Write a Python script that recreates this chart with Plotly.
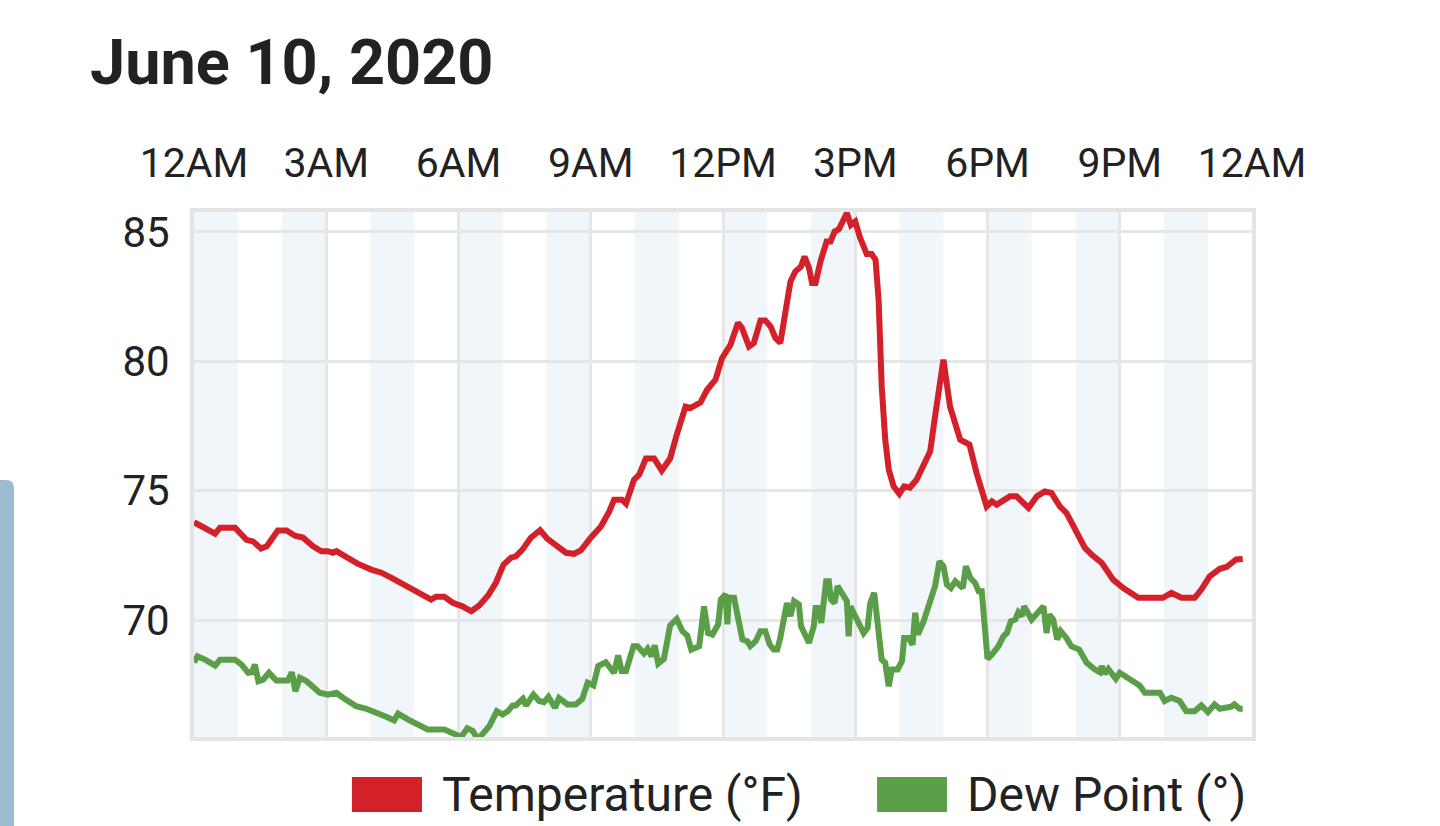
import plotly.graph_objects as go

# Hourly readings for June 10, 2020 (hour of day, value)
temp_hours = [0.0, 0.25, 0.48, 0.59, 0.93, 1.19, 1.34, 1.52, 1.65, 1.9, 2.1, 2.29, 2.47, 2.7, 2.89,
              3.04, 3.15, 3.23, 3.42, 3.71, 4.02, 4.25, 4.47, 4.93, 5.19, 5.38, 5.49, 5.68, 5.87,
              6.09, 6.29, 6.47, 6.67, 6.85, 7.02, 7.19, 7.3, 7.45, 7.64, 7.85, 8.01, 8.17, 8.44,
              8.62, 8.78, 9.0, 9.23, 9.42, 9.53, 9.71, 9.8, 9.98, 10.1, 10.25, 10.44, 10.61, 10.8,
              10.95, 11.15, 11.27, 11.49, 11.64, 11.83, 11.98, 12.17, 12.34, 12.43, 12.59, 12.7,
              12.85, 12.96, 13.08, 13.19, 13.3, 13.42, 13.53, 13.64, 13.77, 13.85, 13.95, 14.02,
              14.1, 14.21, 14.35, 14.44, 14.53, 14.63, 14.7, 14.81, 14.9, 15.0, 15.11, 15.26,
              15.37, 15.46, 15.53, 15.6, 15.68, 15.76, 15.87, 16.0, 16.11, 16.24, 16.39, 16.58,
              16.7, 16.81, 17.0, 17.15, 17.38, 17.59, 17.75, 17.98, 18.1, 18.21, 18.51, 18.66,
              18.93, 19.12, 19.3, 19.45, 19.64, 19.79, 19.98, 20.21, 20.36, 20.59, 20.85, 21.08,
              21.42, 21.98, 22.17, 22.4, 22.7, 22.85, 23.04, 23.27, 23.42, 23.64, 23.79]
temp_values = [73.78, 73.57, 73.34, 73.57, 73.57, 73.1, 73.04, 72.76, 72.85, 73.46, 73.46, 73.26,
               73.19, 72.85, 72.66, 72.66, 72.6, 72.66, 72.46, 72.18, 71.95, 71.83, 71.64, 71.22,
               70.92, 70.79, 70.9, 70.9, 70.67, 70.53, 70.34, 70.56, 70.95, 71.45, 72.14, 72.41,
               72.46, 72.72, 73.18, 73.47, 73.15, 72.92, 72.6, 72.56, 72.7, 73.18, 73.62, 74.2,
               74.65, 74.65, 74.5, 75.42, 75.62, 76.24, 76.24, 75.78, 76.24, 77.16, 78.25, 78.2,
               78.41, 78.9, 79.29, 80.13, 80.64, 81.49, 81.29, 80.57, 80.71, 81.58, 81.58, 81.34,
               80.9, 80.71, 81.99, 83.08, 83.47, 83.66, 84.05, 83.61, 83.03, 83.03, 83.85, 84.63,
               84.63, 85.01, 85.11, 85.35, 85.73, 85.27, 85.4, 84.77, 84.15, 84.15, 83.92, 82.37,
               79.03, 76.97, 75.81, 75.17, 74.88, 75.17, 75.12, 75.42, 76.08, 76.52, 77.87, 80.06,
               78.25, 76.97, 76.78, 75.69, 74.39, 74.59, 74.46, 74.78, 74.78, 74.33, 74.78, 74.97,
               74.91, 74.39, 74.14, 73.5, 72.79, 72.53, 72.21, 71.56, 71.24, 70.86, 70.86, 71.05,
               70.86, 70.86, 71.18, 71.69, 71.98, 72.05, 72.34, 72.36]

dew_hours = [0.0, 0.08, 0.25, 0.48, 0.59, 0.93, 1.08, 1.23, 1.31, 1.38, 1.46, 1.57, 1.7, 1.87,
             2.13, 2.22, 2.3, 2.4, 2.55, 2.7, 2.85, 3.04, 3.23, 3.38, 3.68, 3.91, 4.14, 4.36, 4.54,
             4.63, 4.85, 5.08, 5.3, 5.68, 5.87, 6.06, 6.2, 6.32, 6.44, 6.59, 6.7, 6.87, 7.0, 7.12,
             7.23, 7.3, 7.46, 7.53, 7.7, 7.83, 7.94, 8.04, 8.19, 8.28, 8.47, 8.66, 8.81, 8.93,
             9.06, 9.17, 9.34, 9.53, 9.62, 9.7, 9.8, 9.97, 10.06, 10.21, 10.29, 10.38, 10.45,
             10.53, 10.66, 10.8, 10.95, 11.08, 11.19, 11.28, 11.46, 11.57, 11.66, 11.76, 11.89,
             11.95, 12.06, 12.1, 12.13, 12.25, 12.32, 12.44, 12.55, 12.62, 12.74, 12.85, 12.96,
             13.06, 13.15, 13.23, 13.3, 13.38, 13.45, 13.53, 13.61, 13.72, 13.77, 13.95, 14.06,
             14.1, 14.17, 14.23, 14.34, 14.4, 14.45, 14.53, 14.6, 14.81, 14.85, 14.89, 15.04,
             15.19, 15.28, 15.34, 15.43, 15.53, 15.6, 15.68, 15.76, 15.83, 15.96, 16.06, 16.11,
             16.21, 16.3, 16.36, 16.42, 16.55, 16.7, 16.81, 16.91, 17.0, 17.08, 17.17, 17.27,
             17.44, 17.51, 17.61, 17.72, 17.8, 17.87, 17.93, 18.0, 18.1, 18.25, 18.36, 18.44,
             18.53, 18.63, 18.7, 18.78, 18.83, 19.0, 19.27, 19.34, 19.4, 19.49, 19.58, 19.66,
             19.79, 19.9, 20.08, 20.25, 20.44, 20.55, 20.59, 20.66, 20.74, 20.91, 21.0, 21.45,
             21.57, 21.91, 22.02, 22.17, 22.36, 22.51, 22.7, 22.85, 23.0, 23.15, 23.27, 23.53,
             23.6, 23.72, 23.79]
dew_values = [68.37, 68.6, 68.47, 68.24, 68.47, 68.47, 68.28, 67.96, 67.98, 68.28, 67.64, 67.7,
              67.96, 67.66, 67.66, 67.98, 67.25, 67.77, 67.64, 67.38, 67.19, 67.12, 67.19, 67.0,
              66.67, 66.57, 66.44, 66.26, 66.12, 66.38, 66.16, 65.93, 65.77, 65.77, 65.64, 65.48,
              65.82, 65.72, 65.39, 65.71, 65.9, 66.48, 66.35, 66.48, 66.7, 66.7, 66.96, 66.7,
              67.12, 66.87, 66.83, 67.03, 66.61, 66.99, 66.74, 66.74, 66.96, 67.58, 67.47, 68.22,
              68.37, 67.96, 68.63, 68.03, 68.03, 68.99, 68.99, 68.71, 68.89, 68.6, 69.02, 68.32,
              68.5, 69.79, 70.04, 69.57, 69.4, 68.86, 68.99, 70.53, 69.5, 69.44, 69.83, 70.79,
              71.0, 69.83, 70.86, 70.86, 70.15, 69.25, 69.18, 68.99, 69.18, 69.57, 69.57, 69.05,
              68.86, 68.86, 69.31, 70.15, 70.66, 70.15, 70.73, 70.6, 69.76, 69.12, 69.76, 70.47,
              70.47, 69.89, 71.5, 71.5, 70.79, 70.66, 71.31, 70.73, 69.37, 70.53, 69.95, 69.5,
              69.7, 70.66, 71.05, 69.76, 68.47, 68.35, 67.44, 68.09, 68.09, 68.41, 69.31, 69.31,
              69.05, 70.28, 69.44, 69.95, 70.79, 71.31, 72.27, 72.08, 71.37, 71.24, 71.5, 71.24,
              72.08, 71.63, 71.43, 71.11, 71.11, 69.6, 68.5, 68.67, 68.99, 69.37, 69.5, 69.95,
              70.02, 70.3, 70.15, 70.53, 70.02, 70.53, 69.5, 70.21, 70.02, 69.25, 69.57, 69.31,
              68.99, 68.86, 68.35, 68.09, 67.98, 68.22, 67.93, 68.11, 67.73, 67.96, 67.47, 67.19,
              67.19, 66.87, 67.0, 66.87, 66.48, 66.48, 66.7, 66.44, 66.74, 66.57, 66.65, 66.74,
              66.57, 66.57]

tick_hours = [0, 3, 6, 9, 12, 15, 18, 21, 24]
tick_labels = ["12AM", "3AM", "6AM", "9AM", "12PM", "3PM", "6PM", "9PM", "12AM"]
y_ticks = [70, 75, 80, 85]

title_text = "June 10, 2020"
temp_name = "Temperature (°F)"
dew_name = "Dew Point (°)"
temp_color = "#d42029"
dew_color = "#5a9e48"

fig = go.Figure()
fig.add_trace(go.Scatter(x=temp_hours, y=temp_values, mode="lines", name=temp_name,
                         line=dict(color=temp_color, width=6), showlegend=False,
                         hovertemplate="%{y}<extra></extra>"))
fig.add_trace(go.Scatter(x=dew_hours, y=dew_values, mode="lines", name=dew_name,
                         line=dict(color=dew_color, width=6), showlegend=False,
                         hovertemplate="%{y}<extra></extra>"))

# alternating hour bands
shapes = []
for h in range(0, 24, 2):
    shapes.append(dict(type="rect", xref="x", yref="paper", x0=h, x1=h + 1, y0=0, y1=1,
                       fillcolor="#f1f6fb", line=dict(width=0), layer="below"))

# legend swatches drawn by hand
shapes.append(dict(type="rect", xref="paper", yref="paper", x0=0.1493, x1=0.2155,
                   y0=-0.1429, y1=-0.0762, fillcolor=temp_color, line=dict(width=0)))
shapes.append(dict(type="rect", xref="paper", yref="paper", x0=0.6456, x1=0.7117,
                   y0=-0.1429, y1=-0.0762, fillcolor=dew_color, line=dict(width=0)))

# side panel edge visible at the left of the screenshot
shapes.append(dict(type="path", xref="paper", yref="paper",
                   path="M -0.2,-0.2 L -0.2,0.4895 L -0.1777,0.4895 "
                        "Q -0.1701,0.4895 -0.1701,0.4743 L -0.1701,-0.2 Z",
                   fillcolor="#9fbad3", line=dict(width=0)))

annotations = [
    dict(text="<b>" + title_text + "</b>", xref="paper", yref="paper", x=-0.1002, y=1.2857,
         xanchor="left", yanchor="middle", showarrow=False,
         font=dict(family="Roboto", size=63, color="#222222")),
    dict(text=temp_name, xref="paper", yref="paper", x=0.2325, y=-0.1086,
         xanchor="left", yanchor="middle", showarrow=False,
         font=dict(family="Roboto", size=48, color="#222222")),
    dict(text=dew_name, xref="paper", yref="paper", x=0.7287, y=-0.1086,
         xanchor="left", yanchor="middle", showarrow=False,
         font=dict(family="Roboto", size=48, color="#222222")),
]

fig.update_layout(
    width=1440, height=826,
    margin=dict(l=194, r=188, t=212, b=89),
    paper_bgcolor="white", plot_bgcolor="white",
    font=dict(family="Roboto", color="#222222"),
    shapes=shapes, annotations=annotations,
    showlegend=False,
)
fig.update_xaxes(range=[0, 24], side="top", tickvals=tick_hours, ticktext=tick_labels,
                 showgrid=True, gridcolor="#e6e6e6", gridwidth=3, zeroline=False,
                 showline=True, mirror=True, linecolor="#e4e4e4", linewidth=4,
                 ticks="", ticklabelstandoff=15, tickfont=dict(size=41, color="#222222"))
fig.update_yaxes(range=[65.48, 85.77], tickvals=y_ticks,
                 showgrid=True, gridcolor="#e6e6e6", gridwidth=3, zeroline=False,
                 showline=True, mirror=True, linecolor="#e4e4e4", linewidth=4,
                 ticks="", ticklabelstandoff=12, tickfont=dict(size=42, color="#222222"))

# drop the default page margin so the figure sits at the window's corner
fig.write_html("out.html", config={"displayModeBar": False},
               post_script="document.body.style.margin='0';")
